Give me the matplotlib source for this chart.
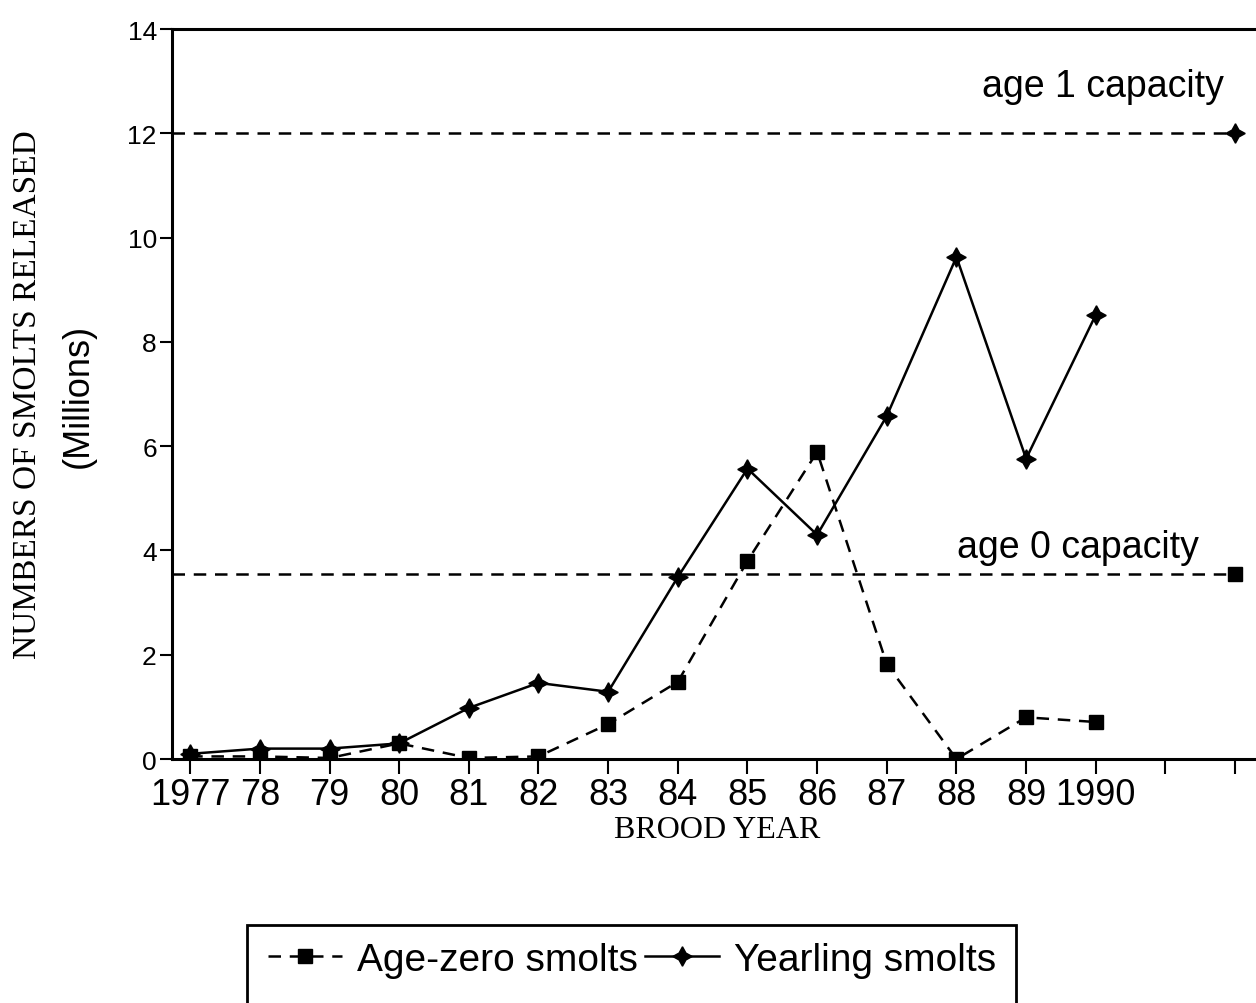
import numpy as np
import matplotlib
matplotlib.use("Agg")
import matplotlib.pyplot as plt
from matplotlib.patches import Rectangle

# brood years and smolt releases (millions)
years = [1977, 1978, 1979, 1980, 1981, 1982, 1983, 1984, 1985, 1986, 1987, 1988, 1989, 1990]
age_zero = [0.05, 0.05, 0.02, 0.30, 0.02, 0.05, 0.67, 1.48, 3.80, 5.89, 1.82, 0.00, 0.80, 0.71]
yearling = [0.10, 0.20, 0.20, 0.30, 0.98, 1.46, 1.29, 3.49, 5.57, 4.30, 6.58, 9.63, 5.76, 8.52]

# hatchery capacities
age1_capacity = 12.0
age0_capacity = 3.55
capacity_year = 1992

tick_years = list(range(1977, 1993))
tick_labels = ["1977", "78", "79", "80", "81", "82", "83", "84", "85", "86",
               "87", "88", "89", "1990", "", ""]

sans = ["Liberation Sans Narrow", "Liberation Sans", "DejaVu Sans"]
serif = ["Liberation Serif", "DejaVu Serif"]

fig = plt.figure(figsize=(12.56, 10.04), dpi=100)
ax = fig.add_axes([0.137, 0.243, 0.863, 0.727])

lw = 1.8
dash = (0, (5, 3.5))
ax.plot(years, age_zero, color="black", lw=lw, ls=dash,
        marker="s", ms=10, label="Age-zero smolts")
ax.plot(years, yearling, color="black", lw=lw, ls="-",
        marker=(4, 1, 0), ms=14, label="Yearling smolts")

# capacity lines
ax.plot([1976.74, capacity_year], [age1_capacity, age1_capacity], color="black",
        lw=lw, ls=dash)
ax.plot([capacity_year], [age1_capacity], color="black", marker=(4, 1, 0), ms=14)
ax.plot([1976.74, capacity_year], [age0_capacity, age0_capacity], color="black",
        lw=lw, ls=dash)
ax.plot([capacity_year], [age0_capacity], color="black", marker="s", ms=10)

ax.text(1990.1, 12.9, "age 1 capacity", ha="center", va="center",
        fontsize=27, family=sans)
ax.text(1989.75, 4.07, "age 0 capacity", ha="center", va="center",
        fontsize=27, family=sans)

ax.set_xlim(1976.74, 1992.3)
ax.set_ylim(0, 14)
ax.set_xticks(tick_years)
ax.set_xticklabels(tick_labels, fontsize=26, family=sans)
ax.set_yticks(np.arange(0, 15, 2))
ax.set_yticklabels([str(v) for v in range(0, 15, 2)], fontsize=19, family=sans)
ax.tick_params(axis="x", direction="out", length=11, width=1.5, pad=2)
ax.tick_params(axis="y", direction="out", length=9, width=1.5, pad=2)

for side in ["left", "bottom", "top"]:
    ax.spines[side].set_linewidth(2.2)
ax.spines["right"].set_visible(False)

fig.text(0.571, 0.173, "BROOD YEAR", ha="center", va="center",
         fontsize=23, family=serif)
fig.text(0.022, 0.607, "NUMBERS OF SMOLTS RELEASED", rotation=90, ha="center",
         va="center", fontsize=24, family=serif)
fig.text(0.062, 0.606, "(Millions)", rotation=90, ha="center", va="center",
         fontsize=26, family=sans)

# legend box running off the bottom of the page
fig.patches.append(Rectangle((0.197, -0.05), 0.612, 0.128, transform=fig.transFigure,
                             fill=False, edgecolor="black", lw=2))
fig.legend(loc="center left", bbox_to_anchor=(0.2134, 0.043), ncol=2, frameon=False,
           prop={"family": sans, "size": 28}, handlelength=1.9, handletextpad=0.38,
           columnspacing=0.2, borderaxespad=0, borderpad=0)

fig.savefig("out.png", dpi=100)
